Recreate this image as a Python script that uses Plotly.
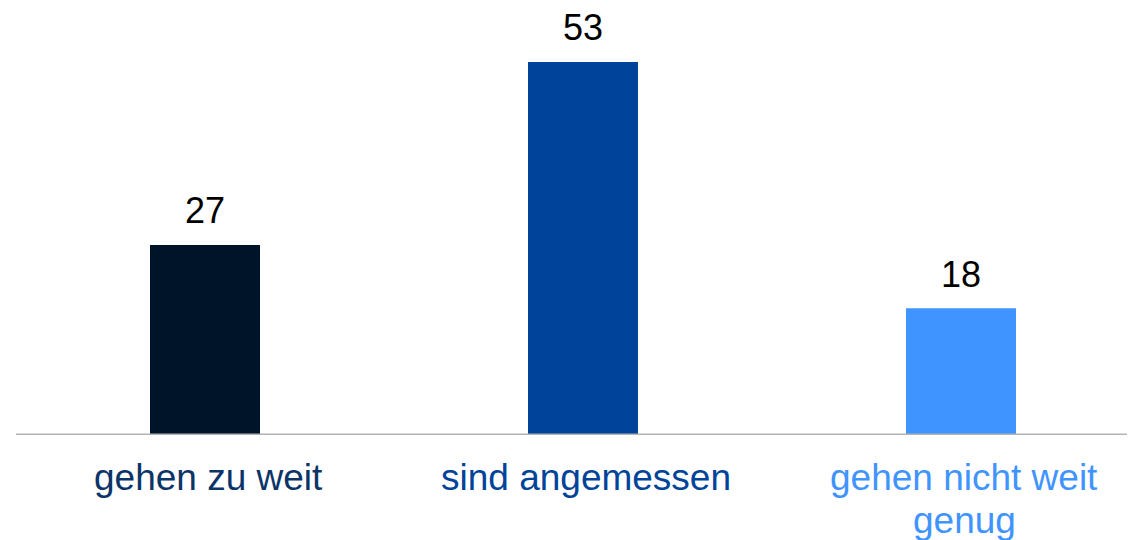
import plotly.graph_objects as go

categories = ["gehen zu weit", "sind angemessen", "gehen nicht weit<br>genug"]
values = [27, 53, 18]
bar_colors = ["#001429", "#00439A", "#3F94FF"]
label_colors = ["#0B3468", "#00439A", "#3F94FF"]

x_pos = list(range(len(categories)))

# plot area height 427 px, 7.04 px per unit; 378 px per category
Y_MAX = 427 / 7.04
X_MAX = -0.5 + 1127 / 378

fig = go.Figure()
fig.add_trace(go.Bar(
    x=x_pos, y=values, width=0.291,
    marker=dict(color=bar_colors, line=dict(width=0)),
    hoverinfo="skip",
))

annotations = []
for xi, v in zip(x_pos, values):
    annotations.append(dict(
        x=xi, y=v, xref="x", yref="y", text=str(v), showarrow=False,
        yanchor="middle", yshift=34,
        font=dict(family="Liberation Sans, Arial", size=36, color="#000000"),
    ))
for xi, cat, col in zip(x_pos, categories, label_colors):
    for li, line in enumerate(cat.split("<br>")):
        annotations.append(dict(
            x=xi, y=-0.1007 - li * 0.0984, xref="x", yref="paper", text=line,
            showarrow=False, yanchor="middle", xshift=3,
            font=dict(family="Liberation Sans, Arial", size=37, color=col),
        ))

fig.update_layout(
    width=1135, height=540,
    margin=dict(l=8, r=0, t=0, b=113, pad=0),
    paper_bgcolor="white", plot_bgcolor="white",
    showlegend=False,
    xaxis=dict(range=[-0.5, X_MAX], showticklabels=False, ticks="",
               showgrid=False, zeroline=False, showline=False, fixedrange=True),
    yaxis=dict(range=[0, Y_MAX], showticklabels=False, ticks="",
               showgrid=False, zeroline=False, showline=False, fixedrange=True),
    shapes=[dict(type="line", xref="paper", yref="y", x0=0, x1=1, y0=0, y1=0,
                 line=dict(color="#B3B3B3", width=3))],
    annotations=annotations,
)

fig.write_html("out.html")
